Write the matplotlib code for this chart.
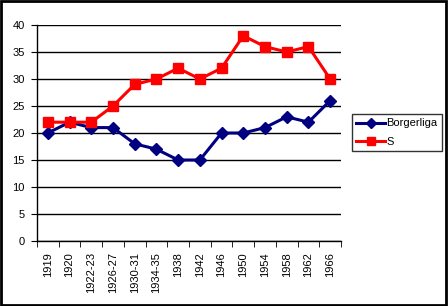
import matplotlib
matplotlib.use('Agg')
import matplotlib.pyplot as plt
from matplotlib.patches import Rectangle

plt.rcParams['font.family'] = ['Liberation Sans', 'DejaVu Sans']

years = ['1919', '1920', '1922-23', '1926-27', '1930-31', '1934-35', '1938',
         '1942', '1946', '1950', '1954', '1958', '1962', '1966']
borgerliga = [20, 22, 21, 21, 18, 17, 15, 15, 20, 20, 21, 23, 22, 26]
s = [22, 22, 22, 25, 29, 30, 32, 30, 32, 38, 36, 35, 36, 30]

fig = plt.figure(figsize=(4.48, 3.06), dpi=100)
ax = fig.add_axes([37/448, 1 - 241/306, 304/448, 216/306])

x = list(range(len(years)))
ax.plot(x, borgerliga, color='#000080', lw=2.2, marker='D', ms=6,
        label='Borgerliga', clip_on=False)
ax.plot(x, s, color='#FF0000', lw=2.2, marker='s', ms=7.5,
        label='S', clip_on=False)

ax.set_xlim(-0.5, len(years) - 0.5)
ax.set_ylim(0, 40)
ax.set_yticks(range(0, 41, 5))
ax.yaxis.grid(True, color='black', lw=1)
ax.set_axisbelow(True)

ax.set_xticks(x)
ax.set_xticklabels(years, rotation=90, fontsize=8)
ax.set_xticks([i - 0.5 for i in range(len(years) + 1)], minor=True)
ax.tick_params(axis='x', which='major', length=0, pad=8)
ax.tick_params(axis='x', which='minor', length=4, direction='out', color='black')
ax.tick_params(axis='y', length=4, direction='out', labelsize=8, pad=5)

for side in ['top', 'right']:
    ax.spines[side].set_visible(False)
ax.spines['left'].set_linewidth(1)
ax.spines['bottom'].set_linewidth(1)

leg = fig.legend(loc='upper left', bbox_to_anchor=(352/448, 1 - 114/306),
                 fontsize=8, frameon=True, fancybox=False, edgecolor='black',
                 borderpad=0.4, handlelength=2.6, handletextpad=0.1,
                 labelspacing=0.75, borderaxespad=0, markerscale=0.8)
leg.get_frame().set_linewidth(1)

fig.patches.append(Rectangle((0.002, 0.004), 0.994, 0.992, transform=fig.transFigure,
                             fill=False, edgecolor='black', lw=2))

fig.savefig('out.png', dpi=100)
